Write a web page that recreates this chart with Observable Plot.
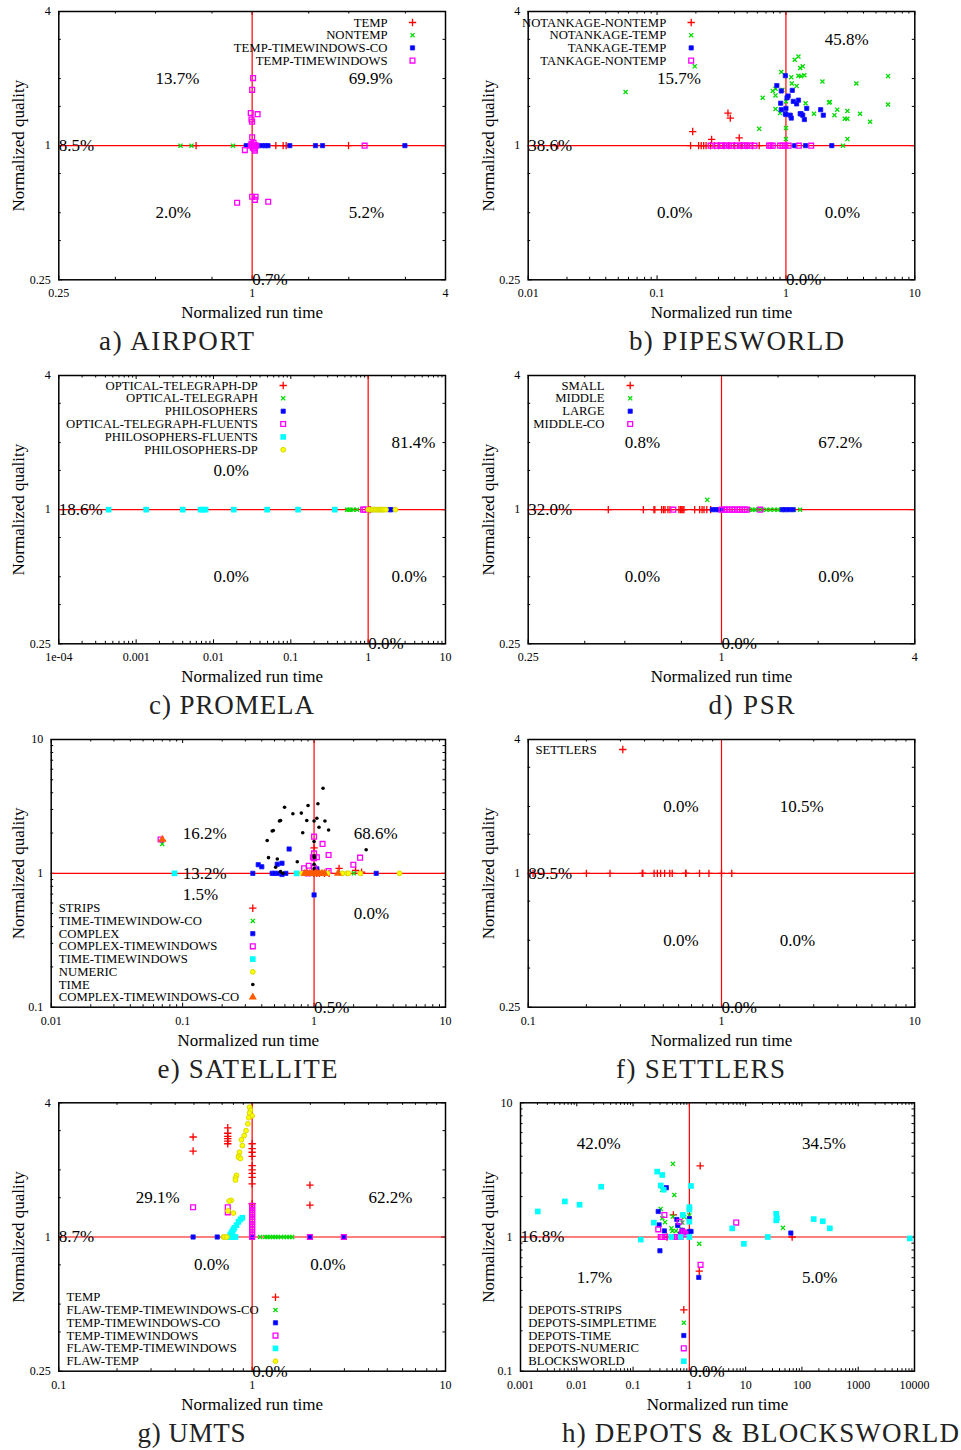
<!DOCTYPE html>
<html><head><meta charset="utf-8">
<script src="https://cdn.jsdelivr.net/npm/d3@7"></script>
<script src="https://cdn.jsdelivr.net/npm/@observablehq/plot@0.6"></script>
<style>
html,body{margin:0;padding:0;background:#fff;}
#page{position:relative;width:961px;height:1450px;overflow:hidden;background:#fff;}
#page svg{position:absolute;overflow:visible;background:transparent;}
#page svg text{font-family:"Liberation Serif",serif;}
</style></head><body><div id="page"></div>
<script>
const FONT = "Liberation Serif, serif";

// ---------------- tick values & labels ----------------
const pow2Ticks = [0.25, 1, 4];
const pow2TickLabels = ["0.25", "1", "4"];
const pow2Minor = [0.375, 0.5, 0.75, 1.5, 2, 3];
const tenthTo10Ticks = [0.1, 1, 10];
const tenthTo10Labels = ["0.1", "1", "10"];
const hundredthTo10Ticks = [0.01, 0.1, 1, 10];
const hundredthTo10Labels = ["0.01", "0.1", "1", "10"];
const promelaXTicks = [1e-4, 1e-3, 0.01, 0.1, 1, 10];
const promelaXLabels = ["1e-04", "0.001", "0.01", "0.1", "1", "10"];
const depotsXTicks = [0.001, 0.01, 0.1, 1, 10, 100, 1000, 10000];
const depotsXLabels = ["0.001", "0.01", "0.1", "1", "10", "100", "1000", "10000"];

// ---------------- a) AIRPORT ----------------
const airportSeries = ["TEMP", "NONTEMP", "TEMP-TIMEWINDOWS-CO", "TEMP-TIMEWINDOWS"];
const airportTemp = [[0.669,1],[0.99,1],[1.01,1],[1.03,1],[1.185,1],[1.249,1],[1.276,1],[1.996,1]];
const airportNontemp = [[0.598,1],[0.647,1],[0.872,1],[0.98,1]];
const airportTempTwCo = [[0.958,1],[1.0,1],[1.02,1],[1.04,1],[1.074,1],[1.10,1],[1.12,1],[1.31,1],[1.575,1],[1.656,1],[2.99,1]];
const airportTempTw = [[1.007,2.01],[1.0,1.78],[0.99,1.40],[1.04,1.385],[0.995,1.31],[1.0,1.28],[1.0,1.09],[0.949,0.955],[1.02,0.95],[1.0,0.59],[1.025,0.59],[1.02,0.571],[0.898,0.554],[1.122,0.56],[2.24,1],[0.99,1],[1.0,1],[1.01,1],[1.02,1],[1.03,1],[0.995,1.02],[1.01,1.03],[1.005,0.98],[1.015,0.97]];
const airportPct = ["13.7%", "69.9%", "2.0%", "5.2%", "8.5%", "0.7%"];

// ---------------- b) PIPESWORLD ----------------
const pipesSeries = ["NOTANKAGE-NONTEMP", "NOTANKAGE-TEMP", "TANKAGE-TEMP", "TANKAGE-NONTEMP"];
const pipesNotankNontemp = [[0.017,1],[0.182,1],[0.21,1],[0.22,1],[0.23,1],[0.24,1],[0.26,1],[0.28,1],[0.3,1],[0.33,1],[0.36,1],[0.4,1],[0.45,1],[0.5,1],[0.55,1],[0.62,1],[0.189,1.157],[0.265,1.066],[0.355,1.40],[0.37,1.33],[0.434,1.084]];
const pipesNotankTemp = [[0.057,1.74],[0.196,2.27],[0.62,1.19],[0.66,1.64],[0.79,1.76],[0.83,1.68],[0.83,1.80],[0.92,2.14],[0.94,1.78],[0.83,1.46],[0.90,1.40],[1.0,1.58],[1.0,1.20],[1.0,1.07],[1.10,2.03],[1.11,1.90],[1.21,1.85],[1.17,2.43],[1.25,2.51],[1.25,2.06],[1.29,2.23],[1.35,2.27],[1.39,2.07],[1.31,2.05],[1.42,1.55],[1.65,1.39],[1.92,1.94],[2.16,1.56],[2.19,1.57],[2.38,1.37],[2.5,1.45],[2.86,1.32],[3.0,1.43],[3.0,1.32],[3.0,1.07],[2.77,1.0],[3.52,1.90],[3.76,1.39],[4.5,1.28],[6.2,2.05],[6.2,1.53]];
const pipesTankTemp = [[0.85,1.86],[0.99,2.06],[0.92,1.76],[0.91,1.55],[0.92,1.45],[1.0,1.47],[0.99,1.39],[1.02,1.64],[1.04,1.67],[1.0,1.38],[1.08,1.37],[1.10,1.33],[1.12,1.77],[1.14,1.58],[1.21,1.54],[1.25,1.60],[1.29,1.39],[1.31,1.39],[1.35,1.37],[1.39,1.31],[1.45,1.47],[1.86,1.45],[1.95,1.37],[1.17,1],[1.42,1],[2.27,1]];
const pipesTankNontemp = [[0.26,1],[0.29,1],[0.31,1],[0.32,1],[0.34,1],[0.36,1],[0.38,1],[0.41,1],[0.44,1],[0.46,1],[0.48,1],[0.5,1],[0.53,1],[0.57,1],[0.74,1],[0.76,1],[0.79,1],[0.9,1],[0.94,1],[0.99,1],[1.05,1],[1.26,1],[1.57,1]];
const pipesPct = ["15.7%", "45.8%", "0.0%", "0.0%", "38.6%", "0.0%"];

// ---------------- c) PROMELA ----------------
const promelaSeries = ["OPTICAL-TELEGRAPH-DP", "OPTICAL-TELEGRAPH", "PHILOSOPHERS", "OPTICAL-TELEGRAPH-FLUENTS", "PHILOSOPHERS-FLUENTS", "PHILOSOPHERS-DP"];
const promelaOtDp = [[1.02,1],[1.06,1]];
const promelaOt = [[0.534,1],[0.56,1],[0.59,1],[0.64,1],[0.72,1]];
const promelaPhil = [[1.1,1],[1.9,1],[1.98,1]];
const promelaOtFl = [[0.86,1],[0.9,1]];
const promelaPhilFl = [[4.4e-4,1],[1.35e-3,1],[4.0e-3,1],[6.8e-3,1],[7.3e-3,1],[7.9e-3,1],[0.0183,1],[0.0494,1],[0.124,1],[0.37,1]];
const promelaPhilDp = [[1.0,1],[1.05,1],[1.1,1],[1.15,1],[1.2,1],[1.25,1],[1.3,1],[1.35,1],[1.4,1],[1.45,1],[1.5,1],[1.55,1],[1.6,1],[1.7,1],[2.25,1]];
const promelaPct = ["0.0%", "81.4%", "0.0%", "0.0%", "18.6%", "0.0%"];

// ---------------- d) PSR ----------------
const psrSeries = ["SMALL", "MIDDLE", "LARGE", "MIDDLE-CO"];
const psrSmall = [[0.444,1],[0.571,1],[0.616,1],[0.62,1],[0.651,1],[0.66,1],[0.667,1],[0.681,1],[0.691,1],[0.737,1],[0.745,1],[0.752,1],[0.758,1],[0.764,1],[0.825,1],[0.855,1],[0.87,1],[0.882,1],[0.9,1],[0.925,1]];
const psrMiddle = [[0.903,1.107],[1.218,1],[1.25,1],[1.27,1],[1.3,1],[1.34,1],[1.38,1],[1.42,1],[1.46,1],[1.5,1],[1.53,1],[1.58,1],[1.63,1],[1.68,1],[1.757,1]];
const psrLarge = [[0.936,1],[0.96,1],[0.98,1],[1.0,1],[1.547,1],[1.58,1],[1.62,1],[1.67,1]];
const psrMiddleCo = [[0.708,1],[1.0,1],[1.02,1],[1.04,1],[1.06,1],[1.08,1],[1.1,1],[1.12,1],[1.14,1],[1.16,1],[1.18,1],[1.2,1],[1.32,1]];
const psrPct = ["0.8%", "67.2%", "0.0%", "0.0%", "32.0%", "0.0%"];

// ---------------- e) SATELLITE ----------------
const satSeries = ["STRIPS", "TIME-TIMEWINDOW-CO", "COMPLEX", "COMPLEX-TIMEWINDOWS", "TIME-TIMEWINDOWS", "NUMERIC", "TIME", "COMPLEX-TIMEWINDOWS-CO"];
const satStrips = [[0.0699,1.76],[1.0,1.55],[1.55,1.09],[2.07,1.05],[2.3,1.02],[1.0,1],[1.05,1],[1.1,1],[1.2,1],[1.3,1]];
const satTimeTwCo = [[0.0699,1.66],[2.01,1],[1.6,1]];
const satComplex = [[0.342,1],[0.376,1.16],[0.40,1.12],[0.525,1.17],[0.57,1.19],[0.646,1.52],[0.48,1],[0.50,1],[0.53,1],[0.57,0.98],[0.61,1],[1.05,1.08],[1.0,0.69],[2.97,1]];
const satComplexTw = [[0.068,1.79],[1.0,1.88],[1.16,1.66],[1.29,1.37],[1.0,1.41],[0.98,1.32],[1.05,1.32],[1.0,1.3],[2.24,1.31],[1.99,1.16],[0.84,1.09],[0.91,1.14],[1.29,1.04],[0.9,1],[1.0,1.1]];
const satTimeTw = [[0.0867,1],[0.736,1]];
const satNumeric = [[0.81,1],[0.85,1],[0.89,1],[0.93,1],[0.97,1],[1.03,1],[1.1,1],[1.17,1],[1.27,1],[1.64,1],[1.78,1],[1.83,1],[2.25,1],[4.47,1]];
const satTime = [[1.17,4.32],[0.596,3.12],[0.90,3.21],[1.07,3.31],[0.69,2.79],[0.80,2.82],[0.88,2.48],[1.0,2.46],[1.05,2.58],[1.21,2.46],[0.556,2.48],[0.545,2.46],[1.09,2.21],[1.29,2.11],[0.49,2.09],[0.48,2.07],[0.82,2.01],[0.44,1.76],[1.0,1.73],[2.49,1.5],[0.45,1.31],[0.525,1.28],[0.745,1.22],[1.0,1.31],[1.0,1.17],[0.51,1.11],[0.556,1.03],[1.0,1.08],[0.58,1.0],[1.0,1.35]];
const satComplexTwCo = [[0.07,1.79],[0.85,1],[0.89,1],[0.93,1],[0.97,1],[1.02,1],[1.06,1],[1.1,1],[1.15,1],[1.2,1],[1.52,1]];
const satPct = ["16.2%", "68.6%", "13.2%", "1.5%", "0.0%", "0.5%"];

// ---------------- f) SETTLERS ----------------
const settlersSeries = ["SETTLERS"];
const settlersPts = [[0.106,1],[0.2,1],[0.265,1],[0.389,1],[0.392,1],[0.448,1],[0.466,1],[0.484,1],[0.508,1],[0.54,1],[0.556,1],[0.652,1],[0.655,1],[0.77,1],[0.861,1],[1.0,1],[1.13,1]];
const settlersPct = ["0.0%", "10.5%", "0.0%", "0.0%", "89.5%", "0.0%"];

// ---------------- g) UMTS ----------------
const umtsSeries = ["TEMP", "FLAW-TEMP-TIMEWINDOWS-CO", "TEMP-TIMEWINDOWS-CO", "TEMP-TIMEWINDOWS", "FLAW-TEMP-TIMEWINDOWS", "FLAW-TEMP"];
const umtsTemp = [[0.495,2.81],[0.495,2.43],[0.748,3.09],[0.748,2.92],[0.748,2.83],[0.748,2.76],[0.748,2.69],[0.748,2.62],[1,2.62],[1,2.49],[1,2.4],[1,2.3],[1,2.09],[1,2.0],[1,1.93],[1,1.85],[1,1.73],[1,1.41],[1.99,1.71],[1.99,1.39]];
const umtsFlawTempTwCo = [[1.1,1],[1.17,1],[1.2,1],[1.24,1],[1.28,1],[1.32,1],[1.36,1],[1.41,1],[1.46,1],[1.51,1],[1.56,1],[1.61,1]];
const umtsTempTwCo = [[0.495,1],[0.66,1],[1.0,1],[1.99,1],[2.98,1]];
const umtsTempTw = [[0.495,1.36],[0.748,1.36],[0.748,1.29],[1,1.02],[1,1.05],[1,1.08],[1,1.11],[1,1.14],[1,1.17],[1,1.2],[1,1.23],[1,1.26],[1,1.29],[1,1.32],[1,1.35],[1,1.38],[1.99,1],[2.98,1],[1,1]];
const umtsFlawTempTw = [[0.757,1],[0.77,1.02],[0.78,1.04],[0.79,1.06],[0.80,1.08],[0.81,1.1],[0.83,1.13],[0.85,1.17],[0.87,1.2],[0.89,1.22],[0.78,1],[0.8,1],[0.82,1]];
const umtsFlawTemp = [[0.97,3.82],[0.98,3.7],[0.97,3.6],[1.0,3.5],[0.96,3.43],[0.95,3.22],[0.93,3.0],[0.91,2.85],[0.88,2.73],[0.89,2.57],[0.86,2.4],[0.85,2.31],[0.85,2.28],[0.87,2.25],[0.83,1.89],[0.82,1.84],[0.82,1.8],[0.78,1.46],[0.76,1.45],[0.75,1.31],[0.8,1.28],[0.71,1],[0.72,1],[0.74,1]];
const umtsPct = ["29.1%", "62.2%", "0.0%", "0.0%", "8.7%", "0.0%"];

// ---------------- h) DEPOTS & BLOCKSWORLD ----------------
const depotsSeries = ["DEPOTS-STRIPS", "DEPOTS-SIMPLETIME", "DEPOTS-TIME", "DEPOTS-NUMERIC", "BLOCKSWORLD"];
const depotsStrips = [[1.56,3.39],[0.52,1.46],[1.5,0.556],[67,1.0],[0.75,1.1],[0.4,1.0]];
const depotsSimpletime = [[0.51,3.51],[0.54,2.06],[0.33,2.25],[0.31,1.62],[0.33,1.38],[0.37,1.29],[0.51,1.42],[0.48,1.16],[0.5,1.11],[0.58,1.11],[0.75,1.28],[0.81,1.41],[1.5,0.89],[46,1.17],[1.0,1.45],[0.65,1.2]];
const depotsTime = [[0.28,1.55],[0.39,2.33],[0.29,1.23],[0.36,1.11],[0.6,1.35],[0.62,1.22],[0.75,1.12],[1.0,1.37],[1.0,1.1],[1.07,1.1],[0.30,0.79],[1.47,0.5],[63.5,1.07],[0.7,1.05],[0.8,1.08]];
const depotsNumeric = [[0.36,1.46],[0.28,1.14],[0.67,1.3],[6.8,1.28],[1.58,0.62],[0.31,1],[0.33,1],[0.37,1],[0.56,1],[0.6,1],[0.65,1],[0.7,1],[0.75,1.1],[0.8,1.08],[0.85,1.05]];
const blocksworld = [[0.00203,1.55],[0.00614,1.84],[0.0112,1.74],[0.0271,2.37],[0.137,0.957],[0.234,1.28],[0.268,3.07],[0.33,2.90],[0.31,2.42],[0.35,2.25],[0.475,1.0],[0.7,1.0],[0.766,1.46],[1.0,1.67],[1.0,1.6],[1.0,1.3],[1.07,2.40],[1.0,1.0],[5.77,1.16],[9.3,0.89],[24.8,1.0],[34.9,1.49],[34.9,1.33],[36,1.38],[162,1.36],[235,1.31],[313,1.16],[8260,0.976]];
const depotsPct = ["42.0%", "34.5%", "1.7%", "5.0%", "16.8%", "0.0%"];

// ---------------- marker styles (gnuplot point types) ----------------
const markerStyles = {
  plus:  {symbol: "plus",     stroke: "#ff0000", fill: "none", r: 2.5, strokeWidth: 1.3},
  times: {symbol: "times",    stroke: "#00dd00", fill: "none", r: 2.0, strokeWidth: 1.3},
  star:  {symbol: "square",   fill: "#0000ff", stroke: "#1a1aff", strokeWidth: 0.8, r: 2.4},
  box:   {symbol: "square",   stroke: "#ff00ff", fill: "none", r: 2.7, strokeWidth: 1.3},
  fbox:  {symbol: "square",   fill: "#00ffff", stroke: "none", r: 3.2},
  circ:  {symbol: "circle",   fill: "#ffff00", stroke: "#d8d800", strokeWidth: 1, r: 2.4},
  dot:   {symbol: "circle",   fill: "#000000", stroke: "none", r: 1.8},
  tri:   {symbol: "triangle", fill: "#ff5a00", stroke: "none", r: 3.0}
};

function logMinor(lo, hi) {
  const out = [];
  for (let e = Math.floor(Math.log10(lo)); e < Math.ceil(Math.log10(hi)); e++) {
    for (let k = 2; k <= 9; k++) { const v = k * Math.pow(10, e); if (v > lo * 1.0001 && v < hi * 0.9999) out.push(v); }
  }
  return out;
}

// ---------------- panel layout ----------------
const panels = [
  {title: "a) AIRPORT", frame: [58.3, 11, 445, 279.3], svg: [0, 0], titleX: 176, titleW: 155, yLabelX: 18,
   xDomain: [0.25, 4], yDomain: [0.25, 4], xTicks: pow2Ticks, xLabels: pow2TickLabels, xMinor: pow2Minor,
   yTicks: pow2Ticks, yLabels: pow2TickLabels, yMinor: pow2Minor,
   series: airportSeries, data: [airportTemp, airportNontemp, airportTempTwCo, airportTempTw], styles: ["plus","times","star","box"],
   legend: {align: "end", textX: 328.7, markX: 353.7, y0: 11, step: 12.7},
   pct: airportPct, pos: [[0.5,2],[2,2],[0.5,0.5],[2,0.5]], edge: ["left","bottom"]},
  {title: "b) PIPESWORLD", frame: [527.7, 11, 914.3, 279.3], svg: [480, 0], titleX: 736, titleW: 215, yLabelX: 488,
   xDomain: [0.01, 10], yDomain: [0.25, 4], xTicks: hundredthTo10Ticks, xLabels: hundredthTo10Labels, xMinor: logMinor(0.01, 10),
   yTicks: pow2Ticks, yLabels: pow2TickLabels, yMinor: pow2Minor,
   series: pipesSeries, data: [pipesNotankNontemp, pipesNotankTemp, pipesTankTemp, pipesTankNontemp], styles: ["plus","times","star","box"],
   legend: {align: "end", textX: 138, markX: 163, y0: 11, step: 12.7},
   pct: pipesPct, pos: [[0.1,2],[2,3],[0.1,0.5],[2,0.5]], edge: ["left","bottom"]},
  {title: "c) PROMELA", frame: [58.3, 375, 445, 643.3], svg: [0, 364], titleX: 231, titleW: 165, yLabelX: 18,
   xDomain: [1e-4, 10], yDomain: [0.25, 4], xTicks: promelaXTicks, xLabels: promelaXLabels, xMinor: logMinor(1e-4, 10),
   yTicks: pow2Ticks, yLabels: pow2TickLabels, yMinor: pow2Minor,
   series: promelaSeries, data: [promelaOtDp, promelaOt, promelaPhil, promelaOtFl, promelaPhilFl, promelaPhilDp], styles: ["plus","times","star","box","fbox","circ"],
   legend: {align: "end", textX: 199, markX: 224.4, y0: 10, step: 12.85},
   pct: promelaPct, pos: [[0.01,1.5],[2,2],[0.01,0.5],[2,0.5]], edge: ["left","bottom"]},
  {title: "d) PSR", frame: [527.7, 375, 914.3, 643.3], svg: [480, 364], titleX: 751, titleW: 86, yLabelX: 488,
   xDomain: [0.25, 4], yDomain: [0.25, 4], xTicks: pow2Ticks, xLabels: pow2TickLabels, xMinor: pow2Minor,
   yTicks: pow2Ticks, yLabels: pow2TickLabels, yMinor: pow2Minor,
   series: psrSeries, data: [psrSmall, psrMiddle, psrLarge, psrMiddleCo], styles: ["plus","times","star","box"],
   legend: {align: "end", textX: 76.3, markX: 102, y0: 10, step: 12.85},
   pct: psrPct, pos: [[0.5,2],[2,2],[0.5,0.5],[2,0.5]], edge: ["left","bottom"]},
  {title: "e) SATELLITE", frame: [50.7, 739, 445, 1006.7], svg: [0, 728], titleX: 247, titleW: 180, yLabelX: 18,
   xDomain: [0.01, 10], yDomain: [0.1, 10], xTicks: hundredthTo10Ticks, xLabels: hundredthTo10Labels, xMinor: logMinor(0.01, 10),
   yTicks: tenthTo10Ticks, yLabels: tenthTo10Labels, yMinor: logMinor(0.1, 10),
   series: satSeries, data: [satStrips, satTimeTwCo, satComplex, satComplexTw, satTimeTw, satNumeric, satTime, satComplexTwCo], styles: ["plus","times","star","box","fbox","circ","dot","tri"],
   legend: {align: "start", textX: 7.6, markX: 201.6, y0: 168.7, step: 12.72},
   pct: satPct, pos: [[0.1,2],[2,2],[0.1,1],[0.1,0.7],[2,0.5]], edge: [null,"bottom"]},
  {title: "f) SETTLERS", frame: [527.7, 739, 914.3, 1006.7], svg: [480, 728], titleX: 700, titleW: 169, yLabelX: 488,
   xDomain: [0.1, 10], yDomain: [0.25, 4], xTicks: tenthTo10Ticks, xLabels: tenthTo10Labels, xMinor: logMinor(0.1, 10),
   yTicks: pow2Ticks, yLabels: pow2TickLabels, yMinor: pow2Minor,
   series: settlersSeries, data: [settlersPts], styles: ["plus"],
   legend: {align: "start", textX: 7.3, markX: 94.6, y0: 10, step: 12.8},
   pct: settlersPct, pos: [[0.5,2],[2,2],[0.5,0.5],[2,0.5]], edge: ["left","bottom"]},
  {title: "g) UMTS", frame: [58.3, 1102.3, 445, 1370.7], svg: [0, 1091], titleX: 191, titleW: 108, yLabelX: 18,
   xDomain: [0.1, 10], yDomain: [0.25, 4], xTicks: tenthTo10Ticks, xLabels: tenthTo10Labels, xMinor: logMinor(0.1, 10),
   yTicks: pow2Ticks, yLabels: pow2TickLabels, yMinor: pow2Minor,
   series: umtsSeries, data: [umtsTemp, umtsFlawTempTwCo, umtsTempTwCo, umtsTempTw, umtsFlawTempTw, umtsFlawTemp], styles: ["plus","times","star","box","fbox","circ"],
   legend: {align: "start", textX: 7.7, markX: 216.7, y0: 194.4, step: 12.8},
   pct: umtsPct, pos: [[0.25,1.5],[4,1.5],[0.5,0.75],[2,0.75]], edge: ["left","bottom"]},
  {title: "h) DEPOTS & BLOCKSWORLD", frame: [520, 1102.3, 914, 1370.7], svg: [480, 1091], titleX: 760, titleW: 397, yLabelX: 488,
   xDomain: [0.001, 10000], yDomain: [0.1, 10], xTicks: depotsXTicks, xLabels: depotsXLabels, xMinor: logMinor(0.001, 10000),
   yTicks: tenthTo10Ticks, yLabels: tenthTo10Labels, yMinor: logMinor(0.1, 10),
   series: depotsSeries, data: [depotsStrips, depotsSimpletime, depotsTime, depotsNumeric, blocksworld], styles: ["plus","times","star","box","fbox"],
   legend: {align: "start", textX: 7.7, markX: 163.3, y0: 207, step: 12.85},
   pct: depotsPct, pos: [[0.01,5],[100,5],[0.01,0.5],[100,0.5]], edge: ["left","bottom"]}
];

const SVG_W = 480, SVG_H = 362;
const page = document.getElementById("page");
const txt = {fontFamily: FONT, lineAnchor: "middle"};

for (const p of panels) {
  const [L, T, R, B] = p.frame;
  const [sx, sy] = p.svg;
  const fw = R - L, fh = B - T;
  const marks = [];
  const majorLen = 4, minorLen = 2.5;
  const tickStyle = {stroke: "black", strokeWidth: 1};
  // inward ticks on all four sides (gnuplot mirror tics)
  for (const [vals, len] of [[p.xMinor, minorLen], [p.xTicks, majorLen]]) {
    marks.push(Plot.ruleX(vals, {x: d => d, insetTop: fh - len, ...tickStyle}));
    marks.push(Plot.ruleX(vals, {x: d => d, insetBottom: fh - len, ...tickStyle}));
  }
  for (const [vals, len] of [[p.yMinor, minorLen], [p.yTicks, majorLen]]) {
    marks.push(Plot.ruleY(vals, {y: d => d, insetRight: fw - len, ...tickStyle}));
    marks.push(Plot.ruleY(vals, {y: d => d, insetLeft: fw - len, ...tickStyle}));
  }
  // quadrant separators
  marks.push(Plot.ruleX([1], {stroke: "#ff0000", strokeWidth: 1.2}));
  marks.push(Plot.ruleY([1], {stroke: "#ff0000", strokeWidth: 1.2}));
  // points
  p.data.forEach((pts, i) => {
    marks.push(Plot.dot(pts, {x: d => d[0], y: d => d[1], ...markerStyles[p.styles[i]]}));
  });
  // frame
  marks.push(Plot.frame({stroke: "black", strokeWidth: 1.5}));
  // tick labels
  const xMap = new Map(p.xTicks.map((v, i) => [v, p.xLabels[i]]));
  const yMap = new Map(p.yTicks.map((v, i) => [v, p.yLabels[i]]));
  marks.push(Plot.axisX({ticks: p.xTicks, tickSize: 0, tickPadding: 9, tickFormat: d => xMap.get(d), fontSize: 12, label: null}));
  marks.push(Plot.axisY({ticks: p.yTicks, tickSize: 0, tickPadding: 8, tickFormat: d => yMap.get(d), fontSize: 12, label: null}));
  // legend
  p.series.forEach((name, i) => {
    const dy = p.legend.y0 + i * p.legend.step;
    marks.push(Plot.text([name], {frameAnchor: "top-left", dx: p.legend.textX, dy, text: d => d, textAnchor: p.legend.align, fontSize: 12.7, ...txt}));
    marks.push(Plot.dot([name], {frameAnchor: "top-left", dx: p.legend.markX, dy, ...markerStyles[p.styles[i]]}));
  });
  // percentage labels
  const quad = p.pos.map((xy, i) => ({x: xy[0], y: xy[1], t: p.pct[i]}));
  marks.push(Plot.text(quad, {x: "x", y: "y", text: "t", textAnchor: "start", fontSize: 17, ...txt}));
  let k = p.pos.length;
  if (p.edge[0] === "left") { const t = p.pct[k++]; marks.push(Plot.text([1], {y: d => d, frameAnchor: "left", text: () => t, textAnchor: "start", fontSize: 17, ...txt})); }
  if (p.edge[1] === "bottom") { const t = p.pct[k++]; marks.push(Plot.text([1], {x: d => d, frameAnchor: "bottom", text: () => t, textAnchor: "start", fontSize: 17, ...txt})); }
  // axis titles
  marks.push(Plot.text(["Normalized run time"], {frameAnchor: "bottom", dy: 33, text: d => d, textAnchor: "middle", fontSize: 17, ...txt}));
  marks.push(Plot.text(["Normalized quality"], {frameAnchor: "left", dx: p.yLabelX - L, rotate: -90, text: d => d, textAnchor: "middle", fontSize: 17, ...txt}));
  // subfigure caption
  marks.push(Plot.text([p.title], {frameAnchor: "bottom-left", dx: p.titleX - L, dy: 62, text: d => d, textAnchor: "middle", fontSize: 27, fill: "#222", ...txt}));

  const svg = Plot.plot({
    width: SVG_W, height: SVG_H,
    marginLeft: L - sx, marginTop: T - sy, marginRight: sx + SVG_W - R, marginBottom: sy + SVG_H - B,
    x: {type: "log", domain: p.xDomain},
    y: {type: "log", domain: p.yDomain},
    style: {fontFamily: FONT, fontSize: "12px", background: "transparent", color: "black"},
    marks
  });
  svg.style.left = sx + "px";
  svg.style.top = sy + "px";
  d3.select(svg).selectAll("text").filter(function() { return this.textContent === p.title; })
    .attr("textLength", p.titleW).attr("lengthAdjust", "spacing");
  page.appendChild(svg);
}
</script></body></html>
